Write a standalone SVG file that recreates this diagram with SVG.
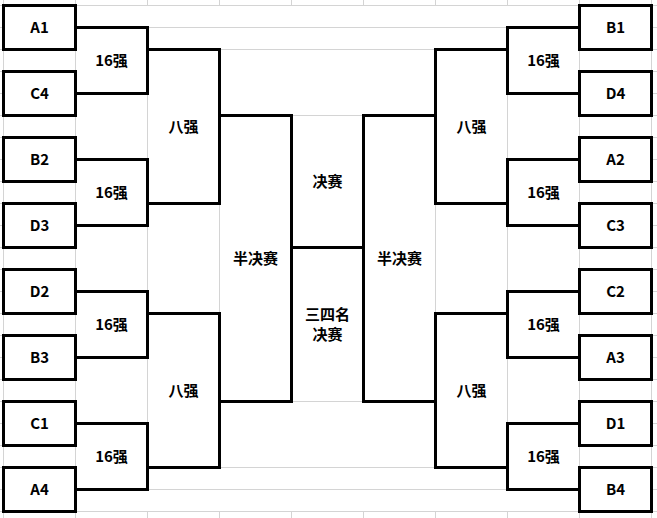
<svg xmlns="http://www.w3.org/2000/svg" width="657" height="518" viewBox="0 0 657 518">
<style>
.g{stroke:#d4d4d4;stroke-width:1;fill:none}
.b{stroke:#000;stroke-width:3;fill:none;stroke-linejoin:miter;stroke-linecap:square}
.box{stroke:#000;stroke-width:3;fill:#fff}
.t{font-family:"Noto Sans CJK SC","Noto Sans",sans-serif;font-size:15px;font-weight:bold;fill:#000;text-anchor:middle}
.c{font-family:"Noto Sans CJK SC","Noto Sans",sans-serif;font-size:15px;font-weight:bold;fill:#000;text-anchor:middle}
</style>
<rect width="657" height="518" fill="#fff"/>
<g id="grid" class="g">
<path d="M3.5,0V518M651.5,0V518M0,5.5H657M0,511.5H657"/>
<path d="M75.5,0V5.5M147.5,0V5.5M219.5,0V5.5M291.5,0V5.5M363.5,0V5.5M435.5,0V5.5M507.5,0V5.5M579.5,0V5.5"/>
<path d="M75.5,511.5V518M147.5,511.5V518M219.5,511.5V518M291.5,511.5V518M363.5,511.5V518M435.5,511.5V518M507.5,511.5V518M579.5,511.5V518"/>
<path d="M0,27.5H3.5M0,49.5H3.5M0,71.5H3.5M0,93.5H3.5M0,115.5H3.5M0,137.5H3.5M0,159.5H3.5M0,181.5H3.5M0,203.5H3.5M0,225.5H3.5M0,247.5H3.5M0,269.5H3.5M0,291.5H3.5M0,313.5H3.5M0,335.5H3.5M0,357.5H3.5M0,379.5H3.5M0,401.5H3.5M0,423.5H3.5M0,445.5H3.5M0,467.5H3.5M0,489.5H3.5"/>
<path d="M651.5,27.5H657M651.5,49.5H657M651.5,71.5H657M651.5,93.5H657M651.5,115.5H657M651.5,137.5H657M651.5,159.5H657M651.5,181.5H657M651.5,203.5H657M651.5,225.5H657M651.5,247.5H657M651.5,269.5H657M651.5,291.5H657M651.5,313.5H657M651.5,335.5H657M651.5,357.5H657M651.5,379.5H657M651.5,401.5H657M651.5,423.5H657M651.5,445.5H657M651.5,467.5H657M651.5,489.5H657"/>
<path d="M75.5,5.5V511.5M579.5,5.5V511.5M147.5,27.5V489.5M507.5,27.5V489.5M219.5,49.5V467.5M435.5,49.5V467.5"/>
<path d="M147.5,27.5H507.5M147.5,489.5H507.5M219.5,49.5H435.5M219.5,467.5H435.5M291.5,115.5H363.5M291.5,401.5H363.5"/>
</g>
<g id="connectors" class="b">
<path d="M75.5,27.5H147.5V93.5H75.5"/>
<path d="M75.5,159.5H147.5V225.5H75.5"/>
<path d="M75.5,291.5H147.5V357.5H75.5"/>
<path d="M75.5,423.5H147.5V489.5H75.5"/>
<path d="M147.5,49.5H219.5V203.5H147.5"/>
<path d="M147.5,313.5H219.5V467.5H147.5"/>
<path d="M219.5,115.5H291.5V401.5H219.5"/>
<path d="M291.5,247.5H363.5"/>
<path d="M435.5,115.5H363.5V401.5H435.5"/>
<path d="M507.5,49.5H435.5V203.5H507.5"/>
<path d="M507.5,313.5H435.5V467.5H507.5"/>
<path d="M579.5,27.5H507.5V93.5H579.5"/>
<path d="M579.5,159.5H507.5V225.5H579.5"/>
<path d="M579.5,291.5H507.5V357.5H579.5"/>
<path d="M579.5,423.5H507.5V489.5H579.5"/>
</g>
<g id="A1"><rect class="box" x="3.5" y="5.5" width="72" height="44"/><text class="t" x="39.5" y="33">A1</text></g>
<g id="C4"><rect class="box" x="3.5" y="71.5" width="72" height="44"/><text class="t" x="39.5" y="99">C4</text></g>
<g id="B2"><rect class="box" x="3.5" y="137.5" width="72" height="44"/><text class="t" x="39.5" y="165">B2</text></g>
<g id="D3"><rect class="box" x="3.5" y="203.5" width="72" height="44"/><text class="t" x="39.5" y="231">D3</text></g>
<g id="D2"><rect class="box" x="3.5" y="269.5" width="72" height="44"/><text class="t" x="39.5" y="297">D2</text></g>
<g id="B3"><rect class="box" x="3.5" y="335.5" width="72" height="44"/><text class="t" x="39.5" y="363">B3</text></g>
<g id="C1"><rect class="box" x="3.5" y="401.5" width="72" height="44"/><text class="t" x="39.5" y="429">C1</text></g>
<g id="A4"><rect class="box" x="3.5" y="467.5" width="72" height="44"/><text class="t" x="39.5" y="495">A4</text></g>
<g id="B1"><rect class="box" x="579.5" y="5.5" width="72" height="44"/><text class="t" x="615.5" y="33">B1</text></g>
<g id="D4"><rect class="box" x="579.5" y="71.5" width="72" height="44"/><text class="t" x="615.5" y="99">D4</text></g>
<g id="A2"><rect class="box" x="579.5" y="137.5" width="72" height="44"/><text class="t" x="615.5" y="165">A2</text></g>
<g id="C3"><rect class="box" x="579.5" y="203.5" width="72" height="44"/><text class="t" x="615.5" y="231">C3</text></g>
<g id="C2"><rect class="box" x="579.5" y="269.5" width="72" height="44"/><text class="t" x="615.5" y="297">C2</text></g>
<g id="A3"><rect class="box" x="579.5" y="335.5" width="72" height="44"/><text class="t" x="615.5" y="363">A3</text></g>
<g id="D1"><rect class="box" x="579.5" y="401.5" width="72" height="44"/><text class="t" x="615.5" y="429">D1</text></g>
<g id="B4"><rect class="box" x="579.5" y="467.5" width="72" height="44"/><text class="t" x="615.5" y="495">B4</text></g>
<g id="r16-l1"><text class="t" x="111.5" y="66">16强</text></g>
<g id="r16-l2"><text class="t" x="111.5" y="198">16强</text></g>
<g id="r16-l3"><text class="t" x="111.5" y="330">16强</text></g>
<g id="r16-l4"><text class="t" x="111.5" y="462">16强</text></g>
<g id="r16-r1"><text class="t" x="543.5" y="66">16强</text></g>
<g id="r16-r2"><text class="t" x="543.5" y="198">16强</text></g>
<g id="r16-r3"><text class="t" x="543.5" y="330">16强</text></g>
<g id="r16-r4"><text class="t" x="543.5" y="462">16强</text></g>
<g id="qf-l1"><text class="c" x="183.5" y="132">八强</text></g>
<g id="qf-l2"><text class="c" x="183.5" y="396">八强</text></g>
<g id="qf-r1"><text class="c" x="471.5" y="132">八强</text></g>
<g id="qf-r2"><text class="c" x="471.5" y="396">八强</text></g>
<g id="sf-l"><text class="c" x="255.5" y="264">半决赛</text></g>
<g id="sf-r"><text class="c" x="399.5" y="264">半决赛</text></g>
<g id="final"><text class="c" x="327.5" y="187">决赛</text></g>
<g id="third"><text class="c" x="327.5" y="320">三四名</text><text class="c" x="327.5" y="340">决赛</text></g>
</svg>
